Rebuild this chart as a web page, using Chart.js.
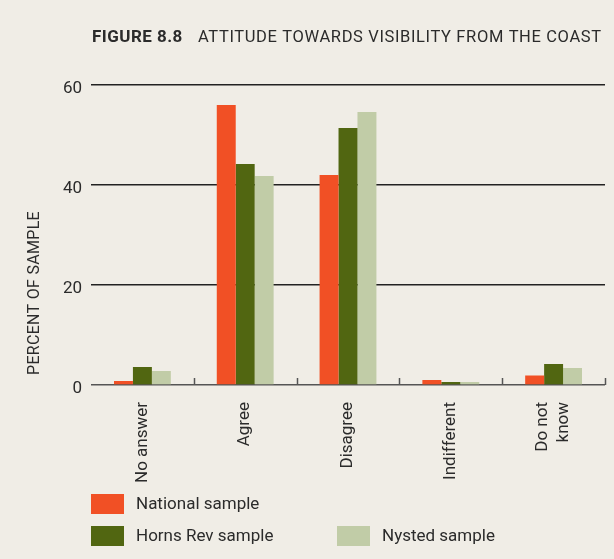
<!DOCTYPE html>
<html>
<head>
<meta charset="utf-8">
<script src="https://cdn.jsdelivr.net/npm/chart.js@4/dist/chart.umd.min.js"></script>
<style>
  html, body { margin: 0; padding: 0; background: #f0ede6; }
  #wrap { width: 614px; height: 559px; position: relative; }
</style>
</head>
<body>
<div id="wrap"><canvas id="chart"></canvas></div>
<script>
// Survey answers, percent of each sample
const categories = ['No answer', 'Agree', 'Disagree', 'Indifferent', ['Do not', 'know']];
const nationalSample = [0.8, 56.0, 42.0, 1.0, 1.9];
const hornsRevSample = [3.6, 44.2, 51.4, 0.6, 4.2];
const nystedSample   = [2.8, 41.8, 54.6, 0.6, 3.4];
const percentTicks   = [0, 20, 40, 60];

const seriesNames  = ['National sample', 'Horns Rev sample', 'Nysted sample'];
const seriesColors = ['#f15025', '#516611', '#c1cca7'];

const figureNumber = 'FIGURE 8.8';
const figureTitle  = 'ATTITUDE TOWARDS VISIBILITY FROM THE COAST';
const axisTitle    = 'PERCENT OF SAMPLE';

const INK = '#2b2b2b';
const FONT = 'Roboto, "Noto Sans", sans-serif';

// Title, axis labels, category separators and the two-row legend
const figureDecor = {
  id: 'figureDecor',
  afterDraw(chart) {
    const { ctx, chartArea, scales: { x, y } } = chart;
    ctx.save();

    // heading
    ctx.fillStyle = INK;
    ctx.textBaseline = 'alphabetic';
    ctx.textAlign = 'left';
    ctx.font = 'bold 17px ' + FONT;
    ctx.letterSpacing = '0.45px';
    ctx.fillText(figureNumber, 92, 42);
    ctx.font = '16.5px ' + FONT;
    ctx.letterSpacing = '0.63px';
    ctx.fillText(figureTitle, 198, 42);
    ctx.letterSpacing = '0px';

    // value labels on the y axis, set a little below each rule
    ctx.font = '17px ' + FONT;
    ctx.textAlign = 'right';
    ctx.textBaseline = 'middle';
    y.ticks.forEach(t => {
      ctx.fillText(String(t.value), chartArea.left - 9, y.getPixelForValue(t.value) + 4);
    });

    // axis title
    ctx.save();
    ctx.translate(35, 293);
    ctx.rotate(-Math.PI / 2);
    ctx.textAlign = 'center';
    ctx.font = '16px ' + FONT;
    ctx.letterSpacing = '0.3px';
    ctx.fillText(axisTitle, 0, 0);
    ctx.restore();

    // category names, reading upward, ending just under the baseline
    const base = y.getPixelForValue(0);
    ctx.font = '17px ' + FONT;
    categories.forEach((label, i) => {
      const lines = Array.isArray(label) ? label : [label];
      ctx.save();
      ctx.translate(x.getPixelForValue(i), base + 17);
      ctx.rotate(-Math.PI / 2);
      ctx.textAlign = 'right';
      ctx.textBaseline = 'middle';
      lines.forEach((ln, k) => {
        ctx.fillText(ln, 0, (k - (lines.length - 1) / 2) * 21);
      });
      ctx.restore();
    });

    // short upward marks between the answer groups
    ctx.strokeStyle = '#555';
    ctx.lineWidth = 1.5;
    for (let i = 0; i < categories.length; i++) {
      const bx = Math.round(x.getPixelForValue(i + 0.5)) + 0.5;
      ctx.beginPath();
      ctx.moveTo(bx, base);
      ctx.lineTo(bx, base - 7);
      ctx.stroke();
    }

    // legend
    const slots = [{ x: 91, y: 494 }, { x: 91, y: 526 }, { x: 337, y: 526 }];
    ctx.font = '17px ' + FONT;
    ctx.textAlign = 'left';
    ctx.textBaseline = 'middle';
    chart.data.datasets.forEach((ds, i) => {
      const s = slots[i];
      ctx.fillStyle = ds.backgroundColor;
      ctx.fillRect(s.x, s.y, 33, 20);
      ctx.fillStyle = INK;
      ctx.fillText(ds.label, s.x + 45, s.y + 11);
    });

    ctx.restore();
  }
};

new Chart(document.getElementById('chart'), {
  type: 'bar',
  data: {
    labels: categories,
    datasets: [
      { label: seriesNames[0], data: nationalSample, backgroundColor: seriesColors[0] },
      { label: seriesNames[1], data: hornsRevSample, backgroundColor: seriesColors[1] },
      { label: seriesNames[2], data: nystedSample,   backgroundColor: seriesColors[2] }
    ]
  },
  options: {
    responsive: true,
    maintainAspectRatio: false,
    devicePixelRatio: 1,
    animation: false,
    layout: { padding: { top: 85, right: 9, left: 0, bottom: 0 } },
    datasets: {
      bar: { categoryPercentage: 0.553, barPercentage: 1, borderWidth: 0 }
    },
    plugins: {
      legend: { display: false },
      title: { display: false },
      tooltip: { enabled: false }
    },
    scales: {
      x: {
        grid: { display: false, drawTicks: false },
        border: { display: false },
        ticks: { display: false },
        afterFit(scale) { scale.height = 174; }
      },
      y: {
        min: 0,
        max: 60,
        z: 1,
        border: { display: false },
        grid: {
          drawTicks: false,
          lineWidth: 1.4,
          color: c => (c.tick && c.tick.value === 0 ? '#555' : '#222')
        },
        ticks: { display: false },
        afterBuildTicks(scale) { scale.ticks = percentTicks.map(v => ({ value: v })); },
        afterFit(scale) { scale.width = 91; }
      }
    }
  },
  plugins: [figureDecor]
});
</script>
</body>
</html>
